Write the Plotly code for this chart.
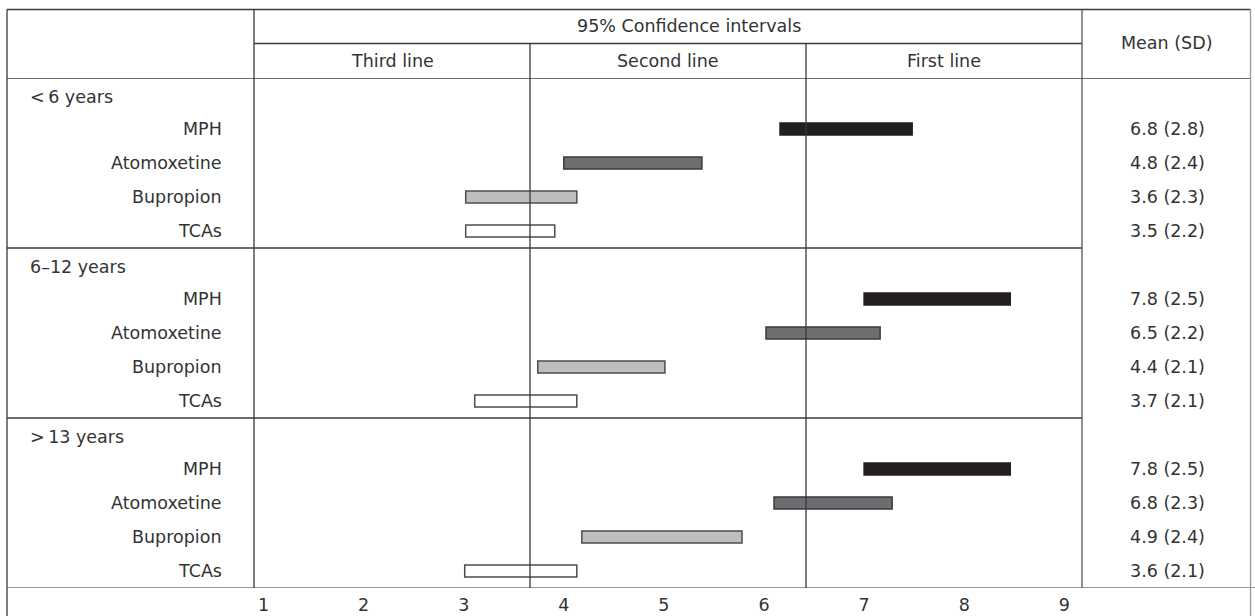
import plotly.graph_objects as go

# ---------------- data ----------------
groups = ["<\u20096 years", "6\u201312 years", ">\u200913 years"]
drugs = ["MPH", "Atomoxetine", "Bupropion", "TCAs"]
column_headers = ["Third line", "Second line", "First line"]
ci_title = "95% Confidence intervals"
mean_title = "Mean (SD)"
tick_labels = ["1", "2", "3", "4", "5", "6", "7", "8", "9"]

# 95% CI lower / upper bounds, per drug, one value per age group
ci_low_mph = [6.16, 7.00, 7.00]
ci_high_mph = [7.48, 8.46, 8.46]
ci_low_atx = [4.00, 6.02, 6.10]
ci_high_atx = [5.38, 7.16, 7.28]
ci_low_bup = [3.02, 3.74, 4.18]
ci_high_bup = [4.13, 5.01, 5.78]
ci_low_tca = [3.02, 3.11, 3.01]
ci_high_tca = [3.91, 4.13, 4.13]

mean_mph = [6.8, 7.8, 7.8]
sd_mph = [2.8, 2.5, 2.5]
mean_atx = [4.8, 6.5, 6.8]
sd_atx = [2.4, 2.2, 2.3]
mean_bup = [3.6, 4.4, 4.9]
sd_bup = [2.3, 2.1, 2.4]
mean_tca = [3.5, 3.7, 3.6]
sd_tca = [2.2, 2.1, 2.1]

ci_low = [ci_low_mph, ci_low_atx, ci_low_bup, ci_low_tca]
ci_high = [ci_high_mph, ci_high_atx, ci_high_bup, ci_high_tca]
means = [mean_mph, mean_atx, mean_bup, mean_tca]
sds = [sd_mph, sd_atx, sd_bup, sd_tca]

# ---------------- styling / layout ----------------
W, H = 1255, 616
FONT = "DejaVu Sans"
FS = 17.5
TXT = "#333333"
LINE = "#3a3a3a"

fills = ["#231f20", "#6d6e71", "#bcbec0", "#ffffff"]
edges = ["#231f20", "#3a3a3a", "#4d4d4d", "#4d4d4d"]


def X(px):
    return px / W


def Y(py):
    return 1 - py / H


TABLE_L, TABLE_R = 7, 1250.5
CHART_L, CHART_R = 254, 1082
TOP, SUB, HEAD_B, BOTTOM = 9.5, 43.5, 78, 588

n_rows = len(groups) * (len(drugs) + 1)

fig = go.Figure()

for d, drug in enumerate(drugs):
    ys, xs, bases = [], [], []
    for g in range(len(groups)):
        row = g * (len(drugs) + 1) + 1 + d
        ys.append(row + 0.5)
        bases.append(ci_low[d][g])
        xs.append(ci_high[d][g] - ci_low[d][g])
    fig.add_trace(go.Bar(
        orientation="h", y=ys, x=xs, base=bases, width=0.355,
        marker=dict(color=fills[d], line=dict(color=edges[d], width=1.5)),
        name=drug, showlegend=False, hoverinfo="skip",
    ))

# axis range: linear scale fitted to the tick-label positions of the reference
slope = 100.1
centre_px = 663.9
x0 = 5 + (CHART_L - centre_px) / slope
x1 = 5 + (CHART_R - centre_px) / slope

fig.update_layout(
    width=W, height=H,
    margin=dict(l=0, r=0, t=0, b=0),
    paper_bgcolor="white", plot_bgcolor="white",
    barmode="overlay",
    font=dict(family=FONT, size=FS, color=TXT),
    xaxis=dict(
        domain=[X(CHART_L), X(CHART_R)], range=[x0, x1],
        tickmode="array", tickvals=[float(t) for t in tick_labels], ticktext=tick_labels,
        showgrid=False, zeroline=False, showline=False, ticks="",
        tickfont=dict(family=FONT, size=FS, color=TXT),
        automargin=False, ticklabelstandoff=4,
    ),
    yaxis=dict(
        domain=[Y(BOTTOM), Y(HEAD_B)], range=[n_rows, 0],
        showgrid=False, zeroline=False, showline=False,
        showticklabels=False, ticks="", automargin=False,
    ),
)

shapes = []


def hline(y0, xa, xb, yref="paper", color=LINE, w=1.3):
    shapes.append(dict(type="line", xref="paper", yref=yref,
                       x0=X(xa), x1=X(xb), y0=y0, y1=y0,
                       line=dict(color=color, width=w)))


def vline(xp, ya, yb, color=LINE, w=1.3):
    shapes.append(dict(type="line", xref="paper", yref="paper",
                       x0=X(xp), x1=X(xp), y0=Y(ya), y1=Y(yb),
                       line=dict(color=color, width=w)))


# horizontal rules
hline(Y(TOP), TABLE_L, TABLE_R)
hline(Y(SUB), CHART_L, CHART_R)
hline(0, TABLE_L, TABLE_R, yref="y")
for g in range(1, len(groups)):
    hline(g * (len(drugs) + 1), TABLE_L, CHART_R, yref="y")
hline(n_rows, TABLE_L, W, yref="y", color="#7a7a7a")

# vertical rules
vline(TABLE_L, TOP, H)
vline(CHART_L, TOP, BOTTOM)
third = (CHART_R - CHART_L) / 3
vline(CHART_L + third, SUB, BOTTOM)
vline(CHART_L + 2 * third, SUB, BOTTOM)
vline(CHART_R, TOP, BOTTOM, color="#555555")
vline(TABLE_R, TOP, H, color="#9a9a9a")

fig.update_layout(shapes=shapes)

ann = []


def text(s, xp, y, yref="paper", xanchor="center"):
    ann.append(dict(text=s, x=X(xp), y=y, xref="paper", yref=yref,
                    xanchor=xanchor, yanchor="middle", showarrow=False,
                    font=dict(family=FONT, size=FS, color=TXT)))


# headers
text(ci_title, 689, Y(26))
for i, h in enumerate(column_headers):
    text(h, CHART_L + third * (i + 0.5), Y(61))
text(mean_title, 1166, Y(43))

# row labels and Mean (SD)
for g, grp in enumerate(groups):
    base_row = g * (len(drugs) + 1)
    text(grp, 28, base_row + 0.55, yref="y", xanchor="left")
    for d, drug in enumerate(drugs):
        row = base_row + 1 + d
        text(drug, 224, row + 0.5, yref="y", xanchor="right")
        text(f"{means[d][g]:.1f} ({sds[d][g]:.1f})", 1167, row + 0.5, yref="y")

fig.update_layout(annotations=ann)

fig.write_html(
    "out.html",
    config={"displayModeBar": False},
    post_script="document.body.style.margin='0';document.body.style.overflow='hidden';",
)
